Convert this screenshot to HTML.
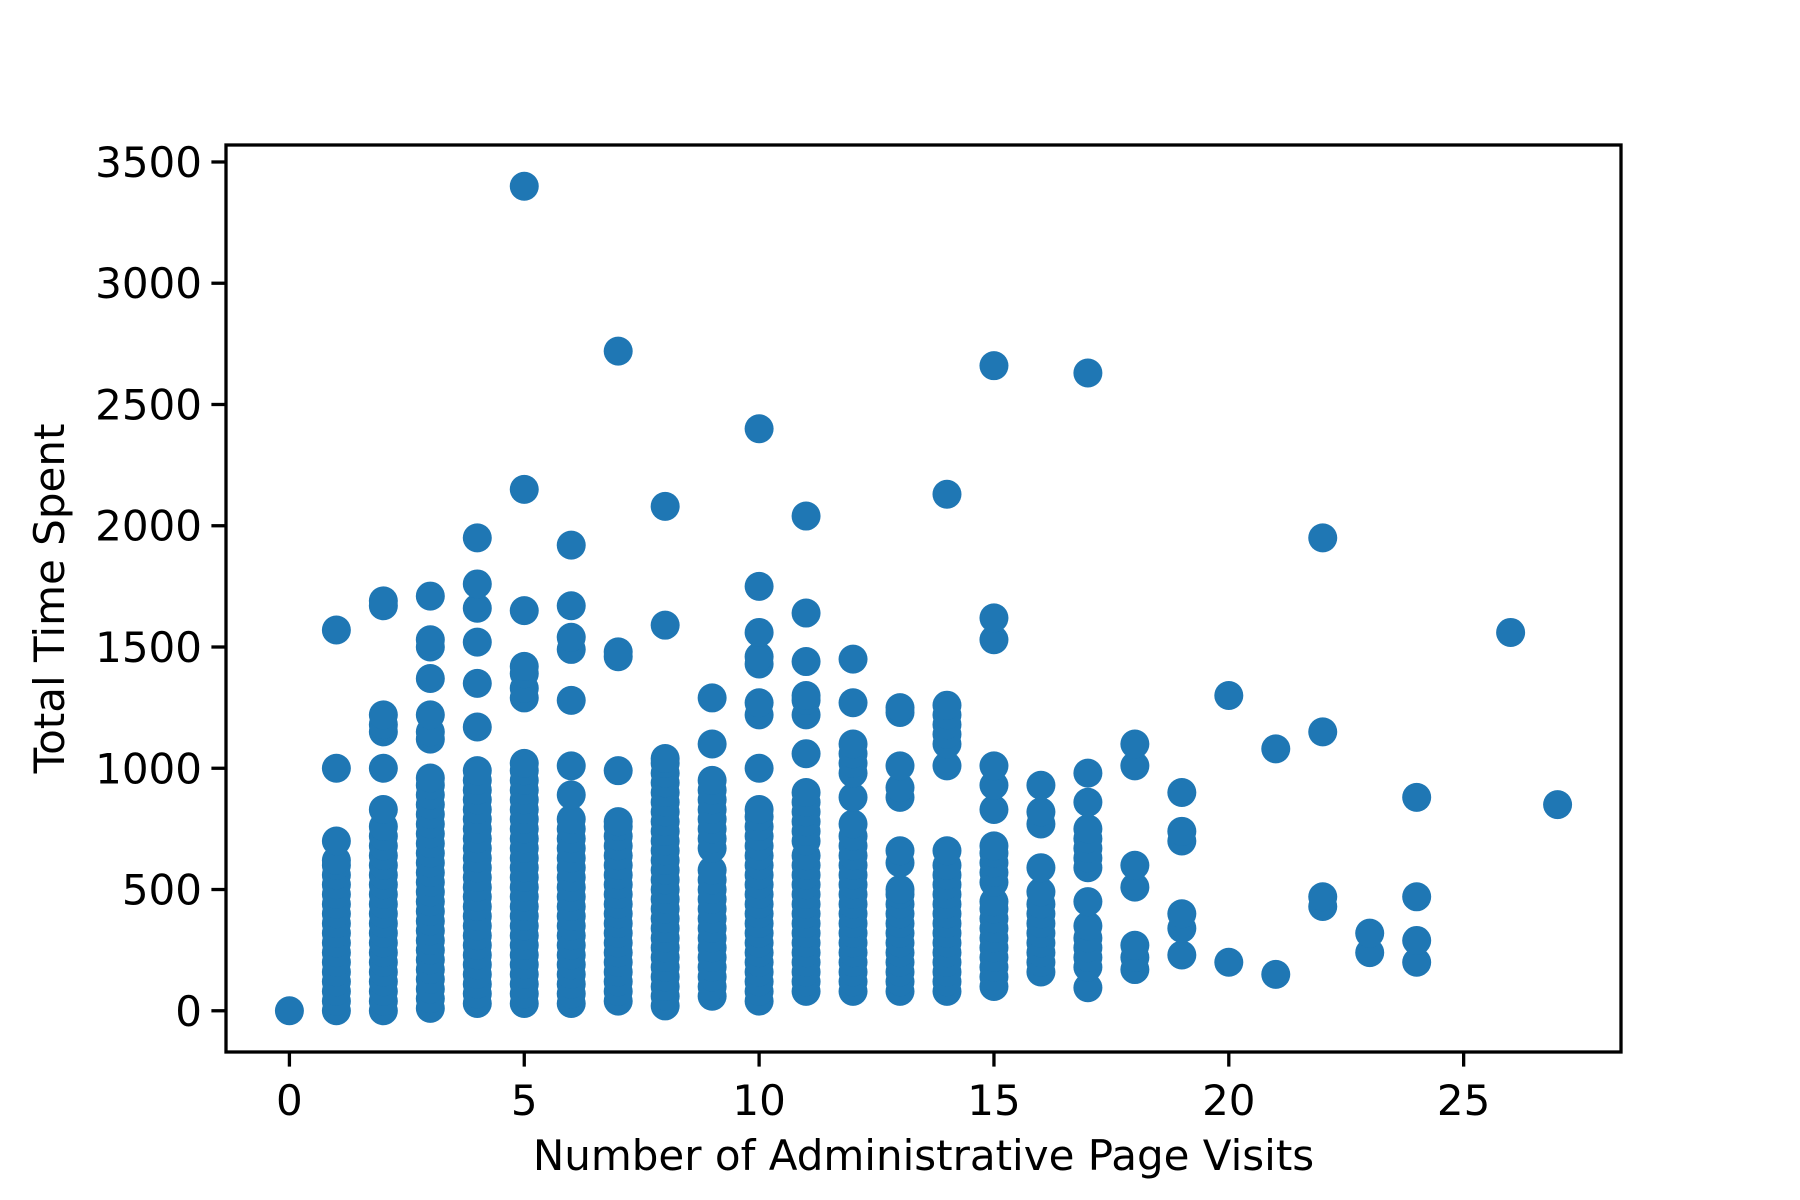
<!DOCTYPE html>
<html><head><meta charset="utf-8"><style>
html,body{margin:0;padding:0;background:#fff;}
svg{display:block;}
text{font-family:"DejaVu Sans","Liberation Sans",sans-serif;font-size:42px;fill:#000;}
</style></head><body>
<svg id="chart" width="1800" height="1200" viewBox="0 0 1800 1200">
<rect width="1800" height="1200" fill="#fff"/>
<g id="points"></g>
<g id="axes"></g>
</svg>
<script>
const xCategories = [0,1,2,3,4,5,6,7,8,9,10,11,12,13,14,15,16,17,18,19,20,21,22,23,24,26,27];
const yValues = [
[0],
[0,40,80,120,160,200,240,280,320,360,400,440,480,520,560,600,620,700,1000,1570],
[0,40,80,120,160,200,240,280,320,360,400,440,480,520,560,600,640,680,720,760,830,1000,1150,1180,1220,1670,1690],
[10,50,90,130,170,210,250,290,330,370,410,450,490,530,570,610,650,690,730,770,810,850,890,930,960,1120,1150,1220,1370,1500,1530,1710],
[30,70,110,150,190,230,270,310,350,390,430,470,510,550,590,630,670,710,750,790,830,870,910,950,990,1170,1350,1520,1660,1760,1950],
[30,70,110,150,190,230,270,310,350,390,430,470,510,550,590,630,670,710,750,790,830,870,910,950,990,1020,1290,1330,1390,1420,1650,2150,3400],
[30,70,110,150,190,230,270,310,350,390,430,470,510,550,590,630,670,710,750,790,890,1010,1280,1490,1540,1670,1920],
[40,80,120,160,200,240,280,320,360,400,440,480,520,560,600,640,680,720,760,780,990,1460,1480,2720],
[20,60,100,140,180,220,260,300,340,380,420,460,500,540,580,620,660,700,740,780,820,860,900,940,980,1020,1040,1590,2080],
[60,100,140,180,220,260,300,340,380,420,460,500,540,580,670,710,750,790,830,870,910,950,1100,1290],
[40,80,120,160,200,240,280,320,360,400,440,480,520,560,600,640,680,720,760,800,830,1000,1220,1270,1430,1460,1560,1750,2400],
[80,120,160,200,240,280,320,360,400,440,480,520,560,600,640,700,740,780,820,860,900,1060,1220,1280,1300,1440,1640,2040],
[80,120,160,200,240,280,320,360,400,440,480,520,560,600,640,680,720,770,880,980,1020,1060,1100,1270,1450],
[80,120,160,200,240,280,320,360,400,440,480,500,610,660,880,920,1010,1230,1250],
[80,120,160,200,240,280,320,360,400,440,480,520,560,600,660,1010,1100,1140,1180,1220,1260,2130],
[100,140,180,220,260,300,340,380,420,450,530,570,610,650,680,830,930,1010,1530,1620,2660],
[160,200,240,280,320,360,400,440,490,590,770,820,930],
[95,180,220,260,300,350,450,590,630,670,710,750,860,980,2630],
[170,220,270,510,600,1010,1100],
[230,340,400,700,740,900],
[200,1300],
[150,1080],
[430,470,1150,1950],
[240,320],
[200,290,470,880],
[1560],
[850]
];
const xTicks = [0,5,10,15,20,25];
const yTicks = [0,500,1000,1500,2000,2500,3000,3500];

const L=226,R=1621,T=145,B=1052;
const xMin=-1.35,xMax=28.35,yMin=-170,yMax=3570;
function sx(v){return L+(v-xMin)/(xMax-xMin)*(R-L);}
function sy(v){return B-(v-yMin)/(yMax-yMin)*(B-T);}
const NS='http://www.w3.org/2000/svg';
const gp=document.getElementById('points');
xCategories.forEach((x,i)=>{
  yValues[i].forEach((y,j)=>{
    const c=document.createElementNS(NS,'circle');
    c.setAttribute('cx',sx(x));c.setAttribute('cy',sy(y));c.setAttribute('r',14.5);
    c.setAttribute('fill','#1f77b4');
    
    
    gp.appendChild(c);
  });
});
const ga=document.getElementById('axes');
function el(tag,attrs,txt){const e=document.createElementNS(NS,tag);for(const k in attrs)e.setAttribute(k,attrs[k]);if(txt!==undefined)e.textContent=txt;ga.appendChild(e);return e;}
const frame=el('rect',{x:L,y:T,width:R-L,height:B-T,fill:'none',stroke:'#000','stroke-width':3.3});


xTicks.forEach(t=>{
  const ln=el('line',{x1:sx(t),x2:sx(t),y1:B,y2:B+14.6,stroke:'#000','stroke-width':3.3});
  
  
  const tx=el('text',{x:sx(t),y:B+63,'text-anchor':'middle'},String(t));
  
  
});
yTicks.forEach(t=>{
  const ln=el('line',{x1:L-14.6,x2:L,y1:sy(t),y2:sy(t),stroke:'#000','stroke-width':3.3});
  
  
  const tx=el('text',{x:L-24,y:sy(t)+15,'text-anchor':'end'},String(t));
  
  
});
const xl=el('text',{x:(L+R)/2,y:1170,'text-anchor':'middle'},'Number of Administrative Page Visits');


const yl=el('text',{x:0,y:0,'text-anchor':'middle',transform:'translate(64,'+((T+B)/2)+') rotate(-90)'},'Total Time Spent');


</script>
</body></html>
